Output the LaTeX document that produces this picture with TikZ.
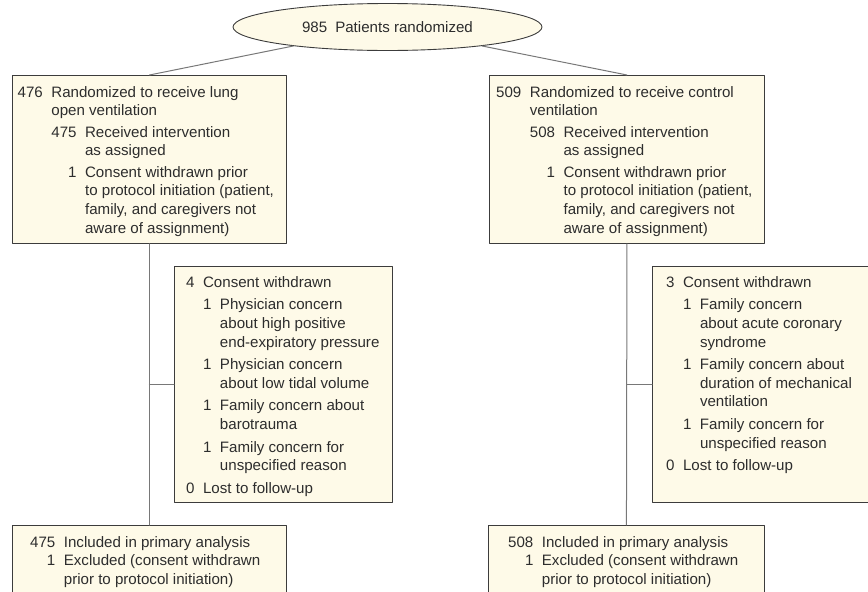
\documentclass[tikz,border=0pt]{standalone}
\usepackage{fontspec}
\setmainfont{Liberation Sans}
\usepackage{tikz}
\usetikzlibrary{shapes.geometric}
\definecolor{cream}{RGB}{254,250,232}
\definecolor{boxline}{RGB}{60,60,60}
\definecolor{connline}{RGB}{120,120,120}
\definecolor{txtgray}{RGB}{45,45,45}
\tikzset{
  box/.style={draw=boxline,fill=cream,line width=0.9pt,inner sep=0pt,anchor=north west},
  oval/.style={ellipse,draw=boxline,fill=cream,line width=0.9pt,inner sep=0pt,text=txtgray,font=\fontsize{15.1}{18.6}\selectfont},
  txt/.style={inner sep=0pt,anchor=north west,text=txtgray,font=\fontsize{15.1}{18.6}\selectfont},
  conn/.style={draw=connline,line width=1pt},
}
\newcommand{\gp}{@{\hspace{8.5pt}}}

\begin{document}
\begin{tikzpicture}[x=1pt,y=-1pt,line cap=round,line join=round]
	\useasboundingbox (0,0) rectangle (868,592);
	\clip (0,0) rectangle (868,592);
	% top
	\node[oval,minimum width=309,minimum height=47] (root) at (387.5,27) {985\hspace{8pt}Patients randomized};
	% assignment boxes
	\node[box,minimum width=274,minimum height=168] (lung) at (12,75) {};
	\node[box,minimum width=275,minimum height=168] (ctrl) at (489,75) {};
	\node[txt] (lung-t) at ([shift={(5.5,9)}]lung.north west) {%
		\begin{tabular}{@{}r\gp r\gp l@{}}
			476 & \multicolumn{2}{@{}l@{}}{Randomized to receive lung}\\
			& \multicolumn{2}{@{}l@{}}{open ventilation}\\[2.8pt]
			& 475 & Received intervention\\
			& & as assigned\\[2.8pt]
			& 1 & Consent withdrawn prior\\
			& & to protocol initiation (patient,\\
			& & family, and caregivers not\\
			& & aware of assignment)
		\end{tabular}};
	\node[txt] (ctrl-t) at ([shift={(7,9)}]ctrl.north west) {%
		\begin{tabular}{@{}r\gp r\gp l@{}}
			509 & \multicolumn{2}{@{}l@{}}{Randomized to receive control}\\
			& \multicolumn{2}{@{}l@{}}{ventilation}\\[2.8pt]
			& 508 & Received intervention\\
			& & as assigned\\[2.8pt]
			& 1 & Consent withdrawn prior\\
			& & to protocol initiation (patient,\\
			& & family, and caregivers not\\
			& & aware of assignment)
		\end{tabular}};
	% withdrawn boxes
	\node[box,minimum width=218,minimum height=236] (lungwd) at (174,266) {};
	\node[box,minimum width=230,minimum height=236] (ctrlwd) at (652,266) {};
	\node[txt] (lungwd-t) at ([shift={(12,8)}]lungwd.north west) {%
		\begin{tabular}{@{}r\gp r\gp l@{}}
			4 & \multicolumn{2}{@{}l@{}}{Consent withdrawn}\\[4pt]
			& 1 & Physician concern\\
			& & about high positive\\
			& & end-expiratory pressure\\[4pt]
			& 1 & Physician concern\\
			& & about low tidal volume\\[4pt]
			& 1 & Family concern about\\
			& & barotrauma\\[4pt]
			& 1 & Family concern for\\
			& & unspecified reason\\[4pt]
			0 & \multicolumn{2}{@{}l@{}}{Lost to follow-up}
		\end{tabular}};
	\node[txt] (ctrlwd-t) at ([shift={(14,8)}]ctrlwd.north west) {%
		\begin{tabular}{@{}r\gp r\gp l@{}}
			3 & \multicolumn{2}{@{}l@{}}{Consent withdrawn}\\[4pt]
			& 1 & Family concern\\
			& & about acute coronary\\
			& & syndrome\\[4pt]
			& 1 & Family concern about\\
			& & duration of mechanical\\
			& & ventilation\\[4pt]
			& 1 & Family concern for\\
			& & unspecified reason\\[4pt]
			0 & \multicolumn{2}{@{}l@{}}{Lost to follow-up}
		\end{tabular}};
	% analysis boxes
	\node[box,minimum width=274,minimum height=90] (lungan) at (12,525) {};
	\node[box,minimum width=276,minimum height=90] (ctrlan) at (488,525) {};
	\node[txt] (lungan-t) at ([shift={(18,9)}]lungan.north west) {%
		\begin{tabular}{@{}r\gp l@{}}
			475 & Included in primary analysis\\
			1 & Excluded (consent withdrawn\\
			& prior to protocol initiation)
		\end{tabular}};
	\node[txt] (ctrlan-t) at ([shift={(20,9)}]ctrlan.north west) {%
		\begin{tabular}{@{}r\gp l@{}}
			508 & Included in primary analysis\\
			1 & Excluded (consent withdrawn\\
			& prior to protocol initiation)
		\end{tabular}};
	% connectors
	\draw[conn] (root) -- (lung.north);
	\draw[conn] (root) -- (ctrl.north);
	\draw[conn] (lung.south) -- (lungan.north);
	\draw[conn] (ctrl.south) -- (ctrlan.north);
	\draw[conn] (lungwd.west) -- (lungwd.west -| lung.south);
	\draw[conn] (ctrlwd.west) -- (ctrlwd.west -| ctrl.south);
\end{tikzpicture}
\end{document}
